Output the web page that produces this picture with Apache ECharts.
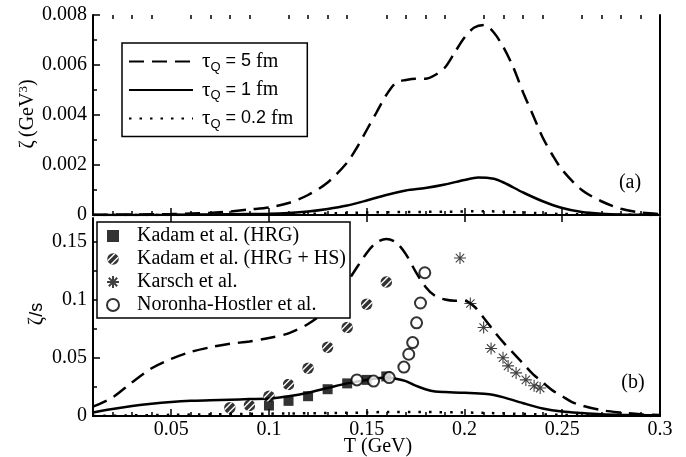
<!DOCTYPE html>
<html>
<head>
<meta charset="utf-8">
<script src="https://cdn.jsdelivr.net/npm/echarts@6/dist/echarts.min.js"></script>
<style>html,body{margin:0;padding:0;background:#fff;}#c{width:686px;height:457px;}</style>
</head>
<body>
<div id="c"></div>
<script>
// ---------- DATA ----------
// Panel (a): zeta (GeV^3) vs T (GeV)
const tA5 = [0.01,0.03,0.05,0.07,0.08,0.09,0.10,0.11,0.12,0.13,0.14,0.145,0.15,0.155,0.16,0.165,0.17,0.175,0.18,0.185,0.19,0.195,0.20,0.205,0.21,0.215,0.22,0.225,0.23,0.235,0.24,0.245,0.25,0.26,0.27,0.28,0.29,0.30];
const zetaA5 = [0.00001,0.00002,0.00004,0.00008,0.00014,0.00022,0.0003,0.00048,0.0008,0.0013,0.0021,0.0027,0.0034,0.0041,0.0048,0.0053,0.0054,0.00545,0.00545,0.0056,0.0059,0.0065,0.0071,0.0075,0.0076,0.0073,0.0067,0.0059,0.0049,0.0040,0.0031,0.0024,0.0018,0.0010,0.00055,0.00025,0.0001,0.00004];
const tA1 = [0.01,0.05,0.08,0.10,0.11,0.12,0.13,0.14,0.15,0.16,0.17,0.18,0.19,0.20,0.207,0.215,0.22,0.23,0.24,0.25,0.26,0.27,0.28,0.30];
const zetaA1 = [0.0,0.00001,0.00003,0.00005,0.00008,0.00014,0.00024,0.00038,0.00058,0.0008,0.00098,0.00108,0.00122,0.0014,0.0015,0.00145,0.0013,0.0009,0.00055,0.00028,0.00012,0.00005,0.00002,0.0];
const tA02 = [0.01,0.10,0.15,0.17,0.19,0.21,0.23,0.25,0.30];
const zetaA02 = [0.0,0.00002,0.0001,0.00012,0.00013,0.00015,0.0001,0.00004,0.0];

// Panel (b): zeta/s vs T (GeV)
const tB5 = [0.01,0.02,0.03,0.04,0.05,0.06,0.07,0.08,0.09,0.10,0.11,0.12,0.13,0.14,0.15,0.155,0.16,0.165,0.17,0.175,0.18,0.185,0.19,0.195,0.20,0.205,0.21,0.215,0.22,0.225,0.23,0.235,0.24,0.245,0.25,0.255,0.26,0.27,0.28,0.29,0.30];
const zsB5 = [0.008,0.016,0.029,0.041,0.049,0.055,0.059,0.062,0.064,0.067,0.071,0.079,0.092,0.115,0.14,0.149,0.152,0.149,0.139,0.124,0.111,0.103,0.100,0.099,0.099,0.094,0.084,0.073,0.063,0.054,0.045,0.036,0.029,0.022,0.017,0.012,0.009,0.005,0.003,0.0015,0.0008];
const tB1 = [0.01,0.02,0.03,0.04,0.05,0.06,0.07,0.08,0.09,0.10,0.11,0.12,0.13,0.14,0.15,0.16,0.165,0.17,0.175,0.18,0.185,0.19,0.20,0.21,0.215,0.22,0.23,0.24,0.25,0.26,0.27,0.28,0.30];
const zsB1 = [0.003,0.006,0.0085,0.0105,0.012,0.013,0.0135,0.014,0.0145,0.015,0.017,0.020,0.024,0.028,0.031,0.033,0.032,0.030,0.026,0.023,0.021,0.0205,0.020,0.019,0.018,0.016,0.011,0.0065,0.0038,0.0025,0.0015,0.001,0.0005];
const tB02 = [0.01,0.05,0.10,0.15,0.16,0.20,0.25,0.30];
const zsB02 = [0.0,0.001,0.002,0.003,0.0035,0.003,0.001,0.0];

// Symbols data
const tKadamHRG = [0.10,0.11,0.12,0.13,0.14,0.15,0.16];
const zsKadamHRG = [0.009,0.013,0.017,0.023,0.028,0.031,0.034];
const tKadamHS = [0.08,0.09,0.10,0.11,0.12,0.13,0.14,0.15,0.16];
const zsKadamHS = [0.007,0.009,0.017,0.027,0.041,0.059,0.076,0.096,0.115];
const tKarsch = [0.1977,0.203,0.2098,0.2136,0.2197,0.2223,0.2264,0.2314,0.2356,0.2387];
const zsKarsch = [0.1356,0.0966,0.076,0.058,0.050,0.043,0.037,0.031,0.026,0.024];
const tNoronha = [0.145,0.1535,0.1615,0.169,0.1715,0.1735,0.1755,0.1775,0.1797];
const zsNoronha = [0.031,0.030,0.033,0.042,0.053,0.063,0.080,0.097,0.123];

// Axis ticks / labels
const xMajor = [0.05,0.10,0.15,0.20,0.25,0.30];
const xMinor = [0.02,0.03,0.04,0.06,0.07,0.08,0.09,0.11,0.12,0.13,0.14,0.16,0.17,0.18,0.19,0.21,0.22,0.23,0.24,0.26,0.27,0.28,0.29];
const yBMajor = [0,0.05,0.10,0.15];
const yBMinor = [0.025,0.075,0.125];

const tauNames = ['τQ = 5 fm','τQ = 1 fm','τQ = 0.2 fm'];
const symNames = ['Kadam et al. (HRG)','Kadam et al. (HRG + HS)','Karsch et al.','Noronha-Hostler et al.'];

// ---------- CHART ----------
const zip = (a,b) => a.map((v,i)=>[v,b[i]]);
const fmt = v => String(Math.round(v*1e6)/1e6);
const SERIF = '"Liberation Serif", "Times New Roman", serif';
const SANS = '"Liberation Sans", Arial, sans-serif';
const FS = 20;

const hatchSvg = "<svg xmlns='http://www.w3.org/2000/svg' width='24' height='24' viewBox='0 0 24 24'><defs><clipPath id='c'><circle cx='12' cy='12' r='11.5'/></clipPath></defs><circle cx='12' cy='12' r='11.5' fill='black'/><g clip-path='url(#c)' stroke='white' stroke-width='2.8'><line x1='-2' y1='19' x2='19' y2='-2'/><line x1='5' y1='26' x2='26' y2='5'/></g></svg>";
const hatchSymbol = 'image://data:image/svg+xml;charset=utf-8,' + encodeURIComponent(hatchSvg);
const starPath = 'path://M6,0L6,12M0,6L12,6M1.8,1.8L10.2,10.2M10.2,1.8L1.8,10.2';
const squarePath = 'path://M0,0L10,0L10,10L0,10Z';

const L = 93, W = 567;
const G0 = {left:L, top:15, width:W, height:200};
const G1 = {left:L, top:218, width:W, height:198};

const lineAx = {show:true, lineStyle:{color:'#000', width:2}};
function xAx(grid, pos, opts){
  return Object.assign({
    type:'value', gridIndex:grid, position:pos, min:0.01, max:0.3,
    axisLine: lineAx, splitLine:{show:false},
    axisTick:{show:false}, axisLabel:{show:false}
  }, opts);
}
const majTick = (vals, len) => ({show:true, inside:true, length:len, customValues:vals, lineStyle:{color:'#000', width:1.5}});

const xAxes = [
  xAx(0,'bottom',{axisTick:majTick(xMajor,7)}),
  xAx(0,'top',{axisTick:majTick(xMajor,7)}),
  xAx(0,'bottom',{axisLine:{show:false}, axisTick:majTick(xMinor,4)}),
  xAx(0,'top',{axisLine:{show:false}, axisTick:majTick(xMinor,4)}),
  xAx(1,'bottom',{axisTick:majTick(xMajor,7), axisLabel:{show:true, customValues:xMajor, formatter:fmt, margin:4, color:'#000', fontFamily:SERIF, fontSize:FS}}),
  xAx(1,'bottom',{axisLine:{show:false}, axisTick:majTick(xMinor,4)}),
  xAx(1,'top',{})
];
const yAxes = [
  {type:'value', gridIndex:0, position:'left', min:0, max:0.008, interval:0.002,
   axisLine:lineAx, splitLine:{show:false},
   axisTick:{show:true, inside:true, length:7, lineStyle:{color:'#000', width:1.5}},
   minorTick:{show:true, splitNumber:2, length:4, lineStyle:{color:'#000', width:1.5}},
   axisLabel:{formatter:fmt, margin:6, color:'#000', fontFamily:SERIF, fontSize:FS}},
  {type:'value', gridIndex:0, position:'right', min:0, max:0.008, axisLine:lineAx, splitLine:{show:false}, axisTick:{show:false}, axisLabel:{show:false}},
  {type:'value', gridIndex:1, position:'left', min:0, max:0.17,
   axisLine:lineAx, splitLine:{show:false},
   axisTick:majTick(yBMajor,7),
   axisLabel:{customValues:yBMajor, formatter:fmt, margin:6, color:'#000', fontFamily:SERIF, fontSize:FS}},
  {type:'value', gridIndex:1, position:'left', min:0, max:0.17, axisLine:{show:false}, splitLine:{show:false}, axisTick:majTick(yBMinor,4), axisLabel:{show:false}},
  {type:'value', gridIndex:1, position:'right', min:0, max:0.17, axisLine:lineAx, splitLine:{show:false}, axisTick:{show:false}, axisLabel:{show:false}}
];

const dashed = {color:'#000', width:2.5, type:[15,8]};
const solid = {color:'#000', width:2.5, type:'solid'};
const dotted = {color:'#000', width:2.5, type:[2.5,8]};
function lineS(name, x, y, xi, yi, ls){
  return {type:'line', name, xAxisIndex:xi, yAxisIndex:yi, data:zip(x,y), showSymbol:false, symbol:'none', smooth:0.3, lineStyle:ls, itemStyle:{color:'#000'}, z:2, animation:false};
}

const series = [
  lineS(tauNames[0], tA5, zetaA5, 0, 0, dashed),
  lineS(tauNames[1], tA1, zetaA1, 0, 0, solid),
  lineS(tauNames[2], tA02, zetaA02, 0, 0, dotted),
  lineS(tauNames[0], tB5, zsB5, 4, 2, dashed),
  lineS(tauNames[1], tB1, zsB1, 4, 2, solid),
  lineS(tauNames[2], tB02, zsB02, 4, 2, dotted),
  {type:'scatter', name:symNames[0], xAxisIndex:4, yAxisIndex:2, data:zip(tKadamHRG,zsKadamHRG), symbol:squarePath, symbolSize:10, itemStyle:{color:'#000'}, z:3, animation:false},
  {type:'scatter', name:symNames[1], xAxisIndex:4, yAxisIndex:2, data:zip(tKadamHS,zsKadamHS), symbol:hatchSymbol, symbolSize:12, itemStyle:{color:'#000'}, z:3, animation:false},
  {type:'scatter', name:symNames[2], xAxisIndex:4, yAxisIndex:2, data:zip(tKarsch,zsKarsch), symbol:starPath, symbolSize:12, itemStyle:{color:'none', borderColor:'#111', borderWidth:1.1}, z:3, animation:false},
  {type:'scatter', name:symNames[3], xAxisIndex:4, yAxisIndex:2, data:zip(tNoronha,zsNoronha), symbol:'circle', symbolSize:11, itemStyle:{color:'#fff', borderColor:'#000', borderWidth:2}, z:4, animation:false}
];

const chart = echarts.init(document.getElementById('c'), null, {renderer:'canvas'});
chart.setOption({
  animation:false,
  backgroundColor:'#fff',
  grid:[Object.assign({containLabel:false}, G0), Object.assign({containLabel:false}, G1)],
  xAxis:xAxes,
  yAxis:yAxes,
  series,
  legend:[
    {data:tauNames, orient:'vertical', left:122, top:43, selectedMode:false,
     itemWidth:64, itemHeight:12, itemGap:6, padding:[8,14,6,6],
     itemStyle:{opacity:0},
     borderColor:'#000', borderWidth:1.5, backgroundColor:'#fff',
     formatter: n => '{t|τ}{q|Q}{s| = ' + n.split('= ')[1].split(' ')[0] + '}{f| fm}',
     textStyle:{color:'#000', padding:[0,0,0,4], rich:{
       t:{fontFamily:SERIF, fontSize:21, color:'#000'},
       q:{fontFamily:SANS, fontSize:13, color:'#000', padding:[11,0,0,0]},
       s:{fontFamily:SANS, fontSize:18, color:'#000'},
       f:{fontFamily:SERIF, fontSize:FS, color:'#000'}
     }}},
    {data:symNames, orient:'vertical', left:97, top:222, selectedMode:false,
     itemWidth:26, itemHeight:12, itemGap:3, padding:[4,4,3,3],
     borderColor:'#000', borderWidth:1.5, backgroundColor:'#fff',
     textStyle:{color:'#000', fontFamily:SERIF, fontSize:FS, padding:[0,0,0,6]}}
  ],
  graphic:[
    {type:'text', x:28, y:114, rotation:Math.PI/2, style:{
      text:'{z|ζ} {g|(GeV}{e|3}{g|)}', align:'center', verticalAlign:'middle',
      rich:{z:{fontFamily:SERIF, fontSize:FS, fill:'#000'}, g:{fontFamily:SERIF, fontSize:FS, fill:'#000'}, e:{fontFamily:SERIF, fontSize:13, fill:'#000', padding:[0,0,9,0]}}}},
    {type:'text', x:37, y:314, rotation:Math.PI/2, style:{
      text:'{z|ζ}{s|/s}', align:'center', verticalAlign:'middle',
      rich:{z:{fontFamily:SERIF, fontSize:FS, fill:'#000'}, s:{fontFamily:SANS, fontSize:18, fill:'#000'}}}},
    {type:'text', x:378, y:447, style:{text:'T (GeV)', align:'center', verticalAlign:'middle', font:'20px "Liberation Serif"', fill:'#000'}},
    {type:'text', x:630, y:183, style:{text:'(a)', align:'center', verticalAlign:'middle', font:'20px "Liberation Serif"', fill:'#000'}},
    {type:'text', x:633, y:383, style:{text:'(b)', align:'center', verticalAlign:'middle', font:'20px "Liberation Serif"', fill:'#000'}}
  ]
});
</script>
</body>
</html>
